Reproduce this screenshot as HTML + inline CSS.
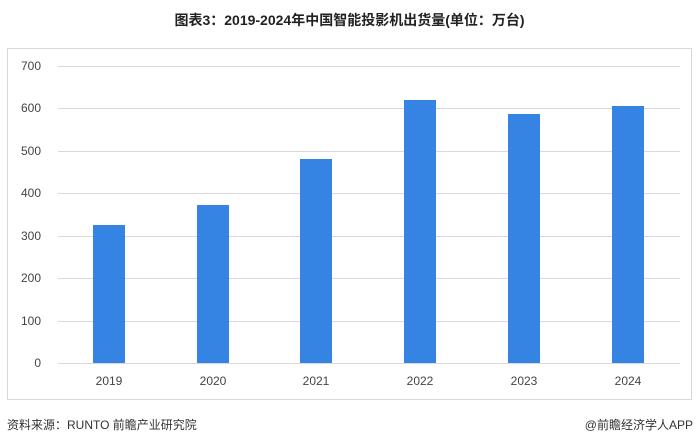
<!DOCTYPE html>
<html><head><meta charset="utf-8"><style>
body{margin:0;width:699px;height:445px;background:#fff;position:relative;overflow:hidden;font-family:"Liberation Sans","Noto Sans CJK SC",sans-serif;}
.t{position:absolute;left:0;width:699px;top:10px;text-align:center;font-size:14px;font-weight:bold;color:#222;}
.f{position:absolute;top:416px;font-size:12px;color:#333;}
</style></head><body>
<div class="t">图表3：2019-2024年中国智能投影机出货量(单位：万台)</div>
<svg width="699" height="445" style="position:absolute;left:0;top:0">
<rect x="7.5" y="48.5" width="684" height="351" fill="none" stroke="#d9d9d9"/>
<g stroke="#d9d9d9" stroke-width="1">
<line x1="58" x2="680" y1="66.5" y2="66.5"/><line x1="58" x2="680" y1="108.5" y2="108.5"/>
<line x1="58" x2="680" y1="151.5" y2="151.5"/><line x1="58" x2="680" y1="193.5" y2="193.5"/>
<line x1="58" x2="680" y1="236.5" y2="236.5"/><line x1="58" x2="680" y1="278.5" y2="278.5"/>
<line x1="58" x2="680" y1="321.5" y2="321.5"/><line x1="58" x2="680" y1="363.5" y2="363.5"/>
</g>
<g font-size="12" fill="#444" text-anchor="end" font-family="Liberation Sans,sans-serif">
<text x="41" y="70">700</text><text x="41" y="112">600</text><text x="41" y="155">500</text>
<text x="41" y="197">400</text><text x="41" y="240">300</text><text x="41" y="282">200</text>
<text x="41" y="325">100</text><text x="41" y="367">0</text>
</g>
<g fill="#3584e4">
<rect x="93" y="225" width="32" height="138"/>
<rect x="197" y="205" width="32" height="158"/>
<rect x="300" y="159" width="32" height="204"/>
<rect x="404" y="100" width="32" height="263"/>
<rect x="508" y="114" width="32" height="249"/>
<rect x="612" y="106" width="32" height="257"/>
</g>
<g font-size="12" fill="#444" text-anchor="middle" font-family="Liberation Sans,sans-serif">
<text x="109" y="385">2019</text><text x="213" y="385">2020</text><text x="316" y="385">2021</text>
<text x="420" y="385">2022</text><text x="524" y="385">2023</text><text x="628" y="385">2024</text>
</g>
</svg>
<div class="f" style="left:7px">资料来源：RUNTO 前瞻产业研究院</div>
<div class="f" style="right:6px">@前瞻经济学人APP</div>
</body></html>
